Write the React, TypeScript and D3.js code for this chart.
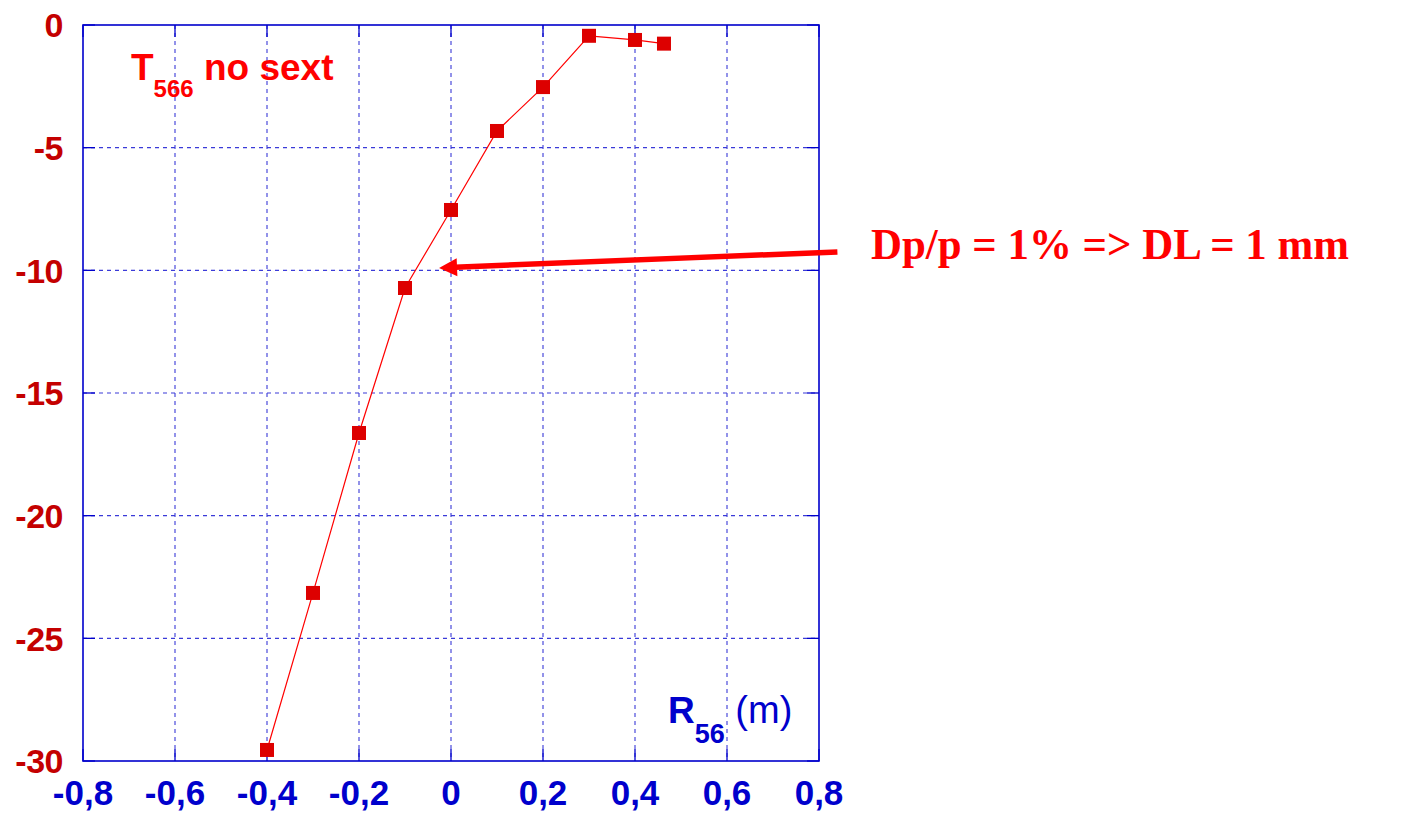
import React from 'react';
import * as d3 from 'd3';

// R56 scan (m) and resulting T566 without sextupoles
const r56 = [-0.4, -0.3, -0.2, -0.1, 0, 0.1, 0.2, 0.3, 0.4, 0.463];
const t566 = [-29.55, -23.15, -16.63, -10.72, -7.54, -4.32, -2.53, -0.44, -0.61, -0.76];

const xTickValues = [-0.8, -0.6, -0.4, -0.2, 0, 0.2, 0.4, 0.6, 0.8];
const yTickValues = [0, -5, -10, -15, -20, -25, -30];

// annotation arrow: tail and tip in data units
const arrowTail = [0.84, -9.25];
const arrowTip = [-0.026, -9.9];
const noteText = 'Dp/p = 1% => DL = 1 mm';

const W = 1425;
const H = 813;
const plot = { left: 83, right: 819, top: 25, bottom: 761 };

const BLUE = '#0000cc';
const GRID = '#3a3ad8';
const DARKRED = '#c40000';
const RED = '#ff0000';
const MARK = '#dd0000';
const SANS = '"Liberation Sans", Arial, Helvetica, sans-serif';
const SERIF = '"Liberation Serif", "Times New Roman", serif';

const fmtX = (v: number) => (v === 0 ? '0' : d3.format('.1f')(v).replace('.', ',').replace('−', '-'));

export default function App() {
  const x = d3.scaleLinear().domain([-0.8, 0.8]).range([plot.left, plot.right]);
  const y = d3.scaleLinear().domain([-30, 0]).range([plot.bottom, plot.top]);

  const pts = r56.map((r, i) => [r, t566[i]] as [number, number]);
  const line = d3
    .line<[number, number]>()
    .x((d) => x(d[0]))
    .y((d) => y(d[1]));

  // arrow geometry in pixels
  const tx = x(arrowTail[0]);
  const ty = y(arrowTail[1]);
  const hx = x(arrowTip[0]);
  const hy = y(arrowTip[1]);
  const ang = Math.atan2(hy - ty, hx - tx);
  const headLen = 18;
  const headHalf = 9;
  const bx = hx - headLen * Math.cos(ang);
  const by = hy - headLen * Math.sin(ang);
  const nx = -Math.sin(ang);
  const ny = Math.cos(ang);
  const head = `M${hx},${hy}L${bx + nx * headHalf},${by + ny * headHalf}L${bx - nx * headHalf},${by - ny * headHalf}Z`;

  const sq = 14;
  const tick = 12;

  return (
    <svg
      width={W}
      height={H}
      style={{ position: 'absolute', left: 0, top: 0, background: '#fff' }}
    >
      {/* grid */}
      <g stroke={GRID} strokeWidth={1.1} strokeDasharray="4,4">
        {xTickValues.slice(1, -1).map((v) => (
          <line key={'gx' + v} x1={x(v)} x2={x(v)} y1={plot.top} y2={plot.bottom} />
        ))}
        {yTickValues.slice(1, -1).map((v) => (
          <line key={'gy' + v} x1={plot.left} x2={plot.right} y1={y(v)} y2={y(v)} />
        ))}
      </g>
      {/* inner tick marks */}
      <g stroke={BLUE} strokeWidth={1.3}>
        {xTickValues.map((v) => (
          <g key={'tx' + v}>
            <line x1={x(v)} x2={x(v)} y1={plot.bottom} y2={plot.bottom - tick} />
            <line x1={x(v)} x2={x(v)} y1={plot.top} y2={plot.top + tick} />
          </g>
        ))}
        {yTickValues.map((v) => (
          <g key={'ty' + v}>
            <line x1={plot.left} x2={plot.left + tick} y1={y(v)} y2={y(v)} />
            <line x1={plot.right} x2={plot.right - tick} y1={y(v)} y2={y(v)} />
          </g>
        ))}
      </g>
      {/* frame */}
      <rect
        x={plot.left}
        y={plot.top}
        width={plot.right - plot.left}
        height={plot.bottom - plot.top}
        fill="none"
        stroke={BLUE}
        strokeWidth={1.6}
      />

      {/* y tick labels */}
      <g fontFamily={SANS} fontWeight="bold" fontSize={34} fill={DARKRED} textAnchor="end">
        {yTickValues.map((v) => (
          <text key={'ly' + v} x={63} y={y(v)} dy="0.36em" letterSpacing={-0.5}>
            {String(v)}
          </text>
        ))}
      </g>
      {/* x tick labels */}
      <g fontFamily={SANS} fontWeight="bold" fontSize={35} fill={BLUE} textAnchor="middle">
        {xTickValues.map((v) => (
          <text key={'lx' + v} x={x(v)} y={805}>
            {fmtX(v)}
          </text>
        ))}
      </g>

      {/* data */}
      <path d={line(pts) || ''} fill="none" stroke={RED} strokeWidth={1.2} />
      <g fill={MARK}>
        {pts.map((d, i) => (
          <rect key={'m' + i} x={x(d[0]) - sq / 2} y={y(d[1]) - sq / 2} width={sq} height={sq} />
        ))}
      </g>

      {/* title */}
      <text x={131} y={80} fontFamily={SANS} fontWeight="bold" fontSize={37} fill={RED}>
        <tspan>T</tspan>
        <tspan dy={17} fontSize={24}>566</tspan>
        <tspan dy={-17}> no sext</tspan>
      </text>

      {/* axis label */}
      <text x={668} y={723} fontFamily={SANS} fill={BLUE}>
        <tspan fontWeight="bold" fontSize={37}>R</tspan>
        <tspan fontWeight="bold" fontSize={27} dy={20}>56</tspan>
        <tspan fontSize={38} dy={-20}> (m)</tspan>
      </text>

      {/* annotation */}
      <line
        x1={tx}
        y1={ty}
        x2={bx + 2 * Math.cos(ang)}
        y2={by + 2 * Math.sin(ang)}
        stroke={RED}
        strokeWidth={5.5}
      />
      <path d={head} fill={RED} />
      <text
        x={871}
        y={259}
        fontFamily={SERIF}
        fontWeight="bold"
        fontSize={45}
        fill={RED}
        textLength={478}
        lengthAdjust="spacingAndGlyphs"
      >
        {noteText}
      </text>
    </svg>
  );
}
